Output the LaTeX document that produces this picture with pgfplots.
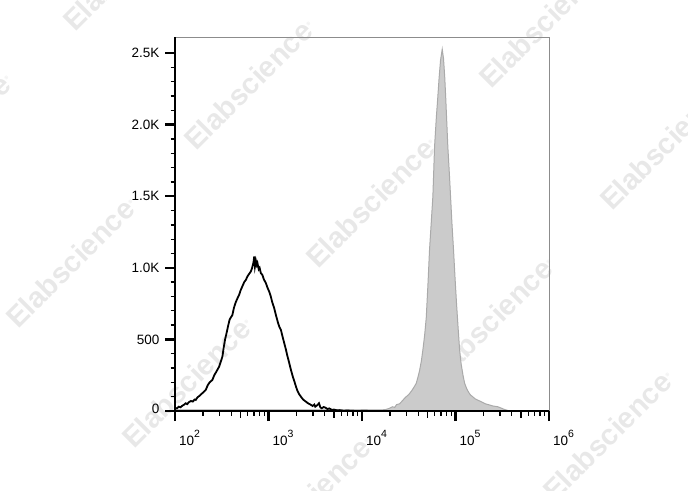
\documentclass[border=0pt]{standalone}
\usepackage{fontspec}
\setmainfont{Liberation Sans}
\usepackage{pgfplots}
\usepackage{pgfplotstable}
\pgfplotsset{compat=1.18}

\definecolor{wmgray}{RGB}{232,232,232}
\definecolor{fillgray}{RGB}{203,203,203}
\definecolor{linegray}{RGB}{170,170,170}
\definecolor{boxgray}{RGB}{140,140,140}

\newcommand{\dec}[1]{10\raisebox{7.3pt}{\fontsize{10.5}{10}\selectfont #1}}

% log10(fluorescence)  count
\pgfplotstableread{
lx y
2.000 22
2.020 18
2.040 30
2.060 26
2.080 38
2.100 45
2.115 54
2.130 48
2.150 62
2.170 70
2.190 66
2.210 80
2.222 77
2.240 95
2.260 105
2.280 118
2.300 128
2.329 147
2.350 180
2.370 200
2.400 217
2.420 250
2.440 272
2.472 310
2.490 345
2.507 380
2.520 440
2.536 501
2.550 540
2.570 600
2.585 640
2.614 671
2.630 720
2.650 760
2.670 790
2.686 811
2.700 840
2.720 870
2.740 900
2.758 916
2.775 940
2.790 955
2.811 974
2.825 1000
2.840 1040
2.847 1079
2.855 1010
2.865 1050
2.875 1020
2.882 1033
2.895 990
2.905 1000
2.918 963
2.935 950
2.950 920
2.972 893
2.990 860
3.010 830
3.025 799
3.040 760
3.060 720
3.079 671
3.100 620
3.115 590
3.133 566
3.150 520
3.170 470
3.187 427
3.200 390
3.220 340
3.240 287
3.260 240
3.280 200
3.294 170
3.310 140
3.330 115
3.347 100
3.370 80
3.390 70
3.401 65
3.420 55
3.440 48
3.460 40
3.472 35
3.490 45
3.500 30
3.520 40
3.540 54
3.555 25
3.570 19
3.590 28
3.610 23
3.630 14
3.650 18
3.680 7
3.700 10
3.730 5
3.760 6
3.800 2
3.850 3
3.900 1
3.950 0
4.000 1
4.200 0
}\blackdata

\pgfplotstableread{
lx y
2.000 7
2.500 7
3.000 7
3.500 7
4.000 7
4.200 7
4.251 10
4.290 18
4.326 30
4.350 25
4.370 45
4.401 50
4.430 70
4.450 85
4.473 100
4.500 115
4.530 140
4.555 165
4.580 193
4.600 240
4.615 280
4.635 350
4.651 426
4.670 530
4.687 650
4.705 880
4.722 1124
4.740 1310
4.758 1500
4.776 1846
4.795 2050
4.811 2195
4.825 2330
4.840 2450
4.858 2526
4.872 2460
4.885 2330
4.895 2195
4.918 1846
4.935 1650
4.947 1500
4.962 1310
4.979 1124
4.995 930
5.011 750
5.028 580
5.044 426
5.060 330
5.080 250
5.098 193
5.120 155
5.141 130
5.160 112
5.183 100
5.210 85
5.240 75
5.258 70
5.290 60
5.320 50
5.365 42
5.400 35
5.451 30
5.490 20
5.526 10
5.580 0
}\graydata

\begin{document}
\begin{tikzpicture}[x=1pt,y=1pt]
\useasboundingbox (0,0) rectangle (688,490);
% watermarks (image coords: x, 490-y)
\begin{scope}[every node/.style={text=wmgray, font=\fontsize{29}{30}\selectfont\bfseries, rotate=45, anchor=base west, inner sep=0pt}]
\node at (75,457) {Elabscience\textsuperscript{\tiny\textregistered}};
\node at (196,338) {Elabscience\textsuperscript{\tiny\textregistered}};
\node at (491,400) {Elabscience\textsuperscript{\tiny\textregistered}};
\node at (-106,284) {Elabscience\textsuperscript{\tiny\textregistered}};
\node at (318,220) {Elabscience\textsuperscript{\tiny\textregistered}};
\node at (612,278) {Elabscience\textsuperscript{\tiny\textregistered}};
\node at (18,160) {Elabscience\textsuperscript{\tiny\textregistered}};
\node at (436,100) {Elabscience\textsuperscript{\tiny\textregistered}};
\node at (134,40) {Elabscience\textsuperscript{\tiny\textregistered}};
\node at (254,-79) {Elabscience\textsuperscript{\tiny\textregistered}};
\node at (555,-13) {Elabscience\textsuperscript{\tiny\textregistered}};
\end{scope}
\begin{axis}[
  at={(175pt,79pt)}, anchor=south west,
  scale only axis, width=374pt, height=374pt,
  xmin=2, xmax=6,
  ymin=0, ymax=2612,
  axis x line*=bottom, axis y line*=left,
  axis line style={line width=2pt, black, -},
  axis on top,
  tick align=outside,
  xtick={2,3,4,5,6},
  xticklabels={\dec{2},\dec{3},\dec{4},\dec{5},\dec{6}},
  minor xtick={2.301,2.477,2.602,2.778,2.845,2.903,2.954,
               3.301,3.477,3.602,3.778,3.845,3.903,3.954,
               4.301,4.477,4.602,4.778,4.845,4.903,4.954,
               5.301,5.477,5.602,5.778,5.845,5.903,5.954},
  extra x ticks={2.699,3.699,4.699,5.699},
  extra x tick labels={},
  extra x tick style={major tick length=6.5pt, every major tick/.append style={line width=1.6pt}},
  ytick={0,500,1000,1500,2000,2500},
  yticklabels={\raisebox{5pt}{0},500,1.0K,1.5K,2.0K,2.5K},
  minor y tick num=4,
  major tick length=10pt, minor tick length=4.5pt,
  every major tick/.append style={line width=2.5pt, black},
  every minor tick/.append style={line width=1.3pt, black},
  xticklabel style={font=\fontsize{13.5}{14}\selectfont, anchor=north west, xshift=0.5pt, yshift=-6pt},
  yticklabel style={font=\fontsize{13.5}{14}\selectfont, anchor=east, xshift=-2pt},
  /pgf/number format/assume math mode=true,
  clip=false,
]
\addplot[fill=fillgray, draw=linegray, line width=1pt] table[x=lx, y=y] {\graydata} \closedcycle;
\addplot[black, line width=1.8pt] table[x=lx, y=y] {\blackdata};
\draw[boxgray, line width=0.8pt] (rel axis cs:0,1) -- (rel axis cs:1,1) -- (rel axis cs:1,0);
\end{axis}
\end{tikzpicture}
\end{document}
